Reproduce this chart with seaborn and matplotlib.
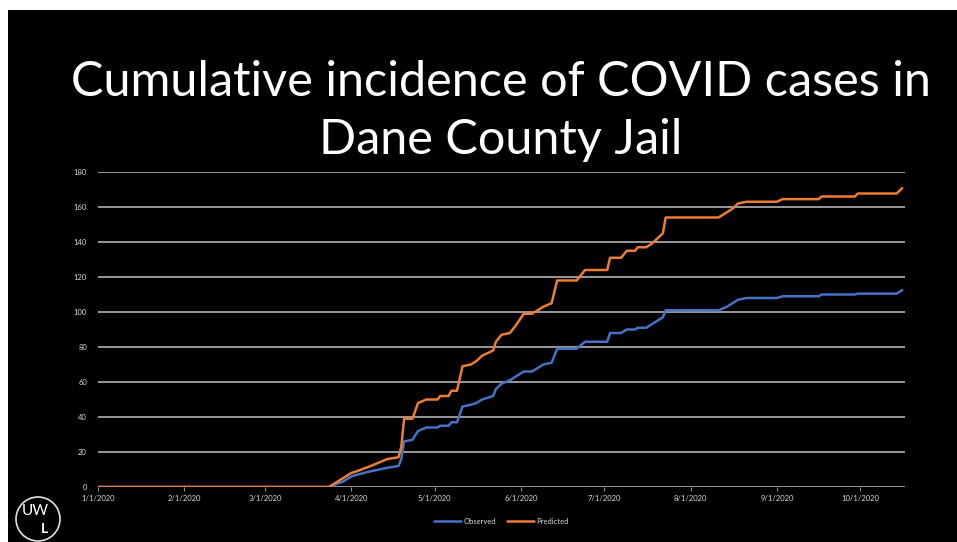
import pandas as pd
import matplotlib
matplotlib.use("Agg")
import matplotlib.pyplot as plt
import matplotlib.dates as mdates
from matplotlib.patches import Ellipse, Rectangle
import seaborn as sns

# breakpoints (lines are drawn straight between them)
dates = ["2020-01-01", "2020-03-24", "2020-03-27", "2020-03-29", "2020-04-01",
         "2020-04-03", "2020-04-08", "2020-04-11", "2020-04-14", "2020-04-18",
         "2020-04-19", "2020-04-20", "2020-04-23", "2020-04-25", "2020-04-28",
         "2020-05-02", "2020-05-03", "2020-05-06", "2020-05-07", "2020-05-09",
         "2020-05-11", "2020-05-14", "2020-05-16", "2020-05-18", "2020-05-22",
         "2020-05-23", "2020-05-25", "2020-05-28", "2020-05-30", "2020-06-02",
         "2020-06-05", "2020-06-07", "2020-06-09", "2020-06-12", "2020-06-14",
         "2020-06-21", "2020-06-24", "2020-07-02", "2020-07-03", "2020-07-07",
         "2020-07-09", "2020-07-12", "2020-07-13", "2020-07-16", "2020-07-18",
         "2020-07-20", "2020-07-22", "2020-07-23", "2020-08-11", "2020-08-14",
         "2020-08-16", "2020-08-18", "2020-08-21", "2020-09-01", "2020-09-03",
         "2020-09-16", "2020-09-17", "2020-09-29", "2020-09-30", "2020-10-14",
         "2020-10-16"]
observed = [0, 0, 2, 3, 6,
            7, 9, 10, 11, 12,
            16, 26, 27, 32, 34,
            34, 35, 35, 37, 37,
            46, 47, 48, 50, 52,
            56, 59, 61, 63, 66,
            66, 68, 70, 71, 79,
            79, 83, 83, 88, 88,
            90, 90, 91, 91, 93,
            95, 97, 101, 101, 103,
            105, 107, 108, 108, 109,
            109, 110, 110, 110.5, 110.5,
            112.5]
predicted = [0, 0, 3, 5, 8,
             9, 12, 14, 16, 17,
             23, 39, 39, 48, 50,
             50, 52, 52, 55, 55,
             69, 70, 72, 75, 78,
             83, 87, 88, 92, 99,
             99, 101, 103, 105, 118,
             118, 124, 124, 131, 131,
             135, 135, 137, 137, 139,
             142, 145, 154, 154, 157,
             159, 162, 163, 163, 164.5,
             164.5, 166, 166, 167.7, 167.7,
             170.8]

df = pd.DataFrame({"date": pd.to_datetime(dates),
                   "Observed": observed, "Predicted": predicted})
long_df = df.melt(id_vars="date", var_name="series", value_name="cases")

sns.set_style("dark")
plt.rcParams["font.family"] = ["Lato", "DejaVu Sans"]

fig = plt.figure(figsize=(9.57, 5.42), dpi=100)
fig.patch.set_facecolor("white")
# black slide, offset a little from the top/left like the screenshot
fig.add_artist(Rectangle((8 / 957, 0), 1, 1 - 10 / 542, transform=fig.transFigure,
                         facecolor="black", edgecolor="none", zorder=0))

ax = fig.add_axes([98 / 957, 1 - 487 / 542, (905 - 98) / 957, (487 - 172) / 542])
ax.set_facecolor("black")

sns.lineplot(data=long_df, x="date", y="cases", hue="series", ax=ax,
             palette={"Observed": "#4472C4", "Predicted": "#ED7D31"},
             linewidth=1.8, zorder=3)

ax.set_xlim(pd.Timestamp("2020-01-01"), pd.Timestamp("2020-10-17"))
ax.set_ylim(0, 180)
ax.set_yticks(range(0, 181, 20))
ax.xaxis.set_major_locator(mdates.MonthLocator())
ax.xaxis.set_major_formatter(
    plt.FuncFormatter(lambda v, p: (lambda d: f"{d.month}/{d.day}/{d.year}")(mdates.num2date(v))))
ax.grid(axis="y", color="#999999", linewidth=1.4)
ax.grid(axis="x", visible=False)
for s in ax.spines.values():
    s.set_visible(False)
ax.tick_params(axis="y", length=0, colors="#d9d9d9", labelsize=5.5, pad=8)
ax.tick_params(axis="x", length=3, width=0.8, color="#8c8c8c", labelcolor="#d9d9d9",
               labelsize=5.5, pad=3, bottom=True, direction="out")
ax.set_xlabel("")
ax.set_ylabel("")

leg = ax.legend(loc="upper center", bbox_to_anchor=(0.5, -0.075), ncol=2, frameon=False,
                fontsize=5.5, labelcolor="#d9d9d9", handlelength=3.5, columnspacing=1.5,
                handletextpad=0.3)
for line in leg.get_lines():
    line.set_linewidth(1.8)

fig.text(0.523, 1 - 82 / 542, "Cumulative incidence of COVID cases in", color="white",
         fontsize=35, fontweight="normal", ha="center", va="center")
fig.text(0.523, 1 - 140 / 542, "Dane County Jail", color="white",
         fontsize=35, fontweight="normal", ha="center", va="center")

# UW-L logo
fig.add_artist(Ellipse((38 / 957, 1 - 519 / 542), 44 / 957, 44 / 542,
                       transform=fig.transFigure, facecolor="none",
                       edgecolor="#e0e0e0", linewidth=1.2))
fig.text(35 / 957, 1 - 511 / 542, "UW", color="white", fontsize=11, ha="center", va="center")
fig.text(44 / 957, 1 - 529 / 542, "L", color="white", fontsize=10, fontweight="bold",
         ha="center", va="center")

fig.savefig("out.png", dpi=100, facecolor=fig.get_facecolor())
